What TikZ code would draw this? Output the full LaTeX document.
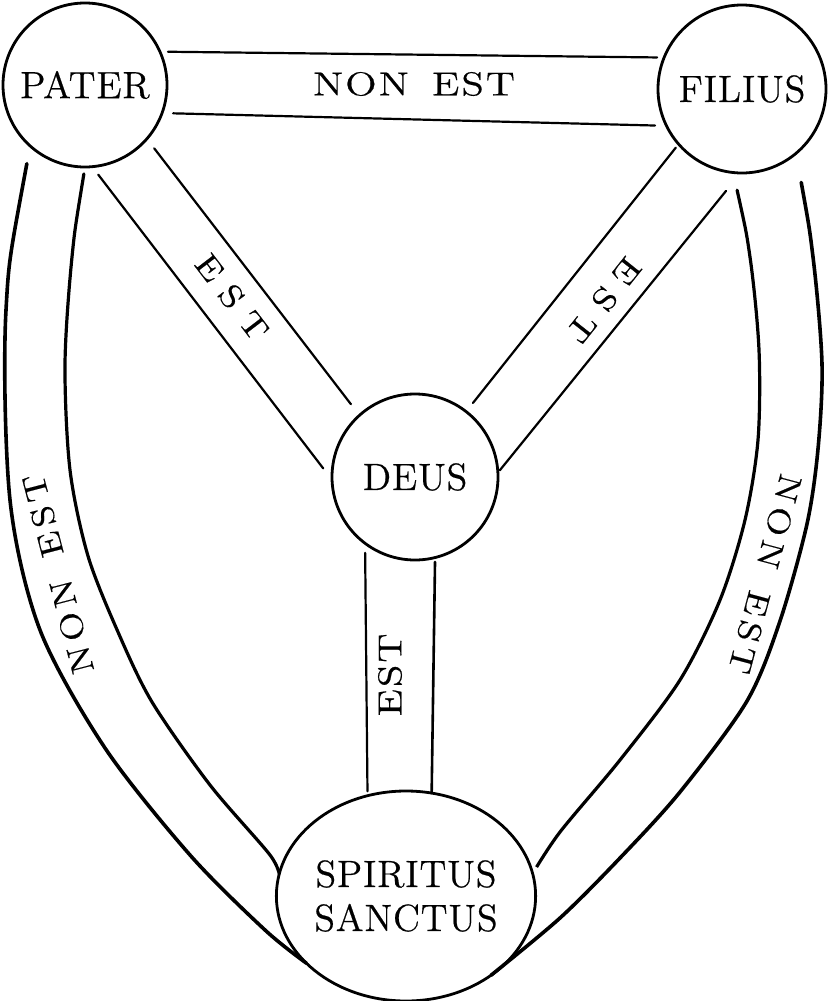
\documentclass[tikz,border=0pt]{standalone}
\usepackage{fontspec}
\usetikzlibrary{shapes.geometric}
\setmainfont{lmroman12-regular.otf}
\newfontfamily\bandfont[FakeStretch=1.25,LetterSpace=6,FakeBold=0.5]{lmroman12-regular.otf}
\newfontfamily\sidefont[FakeStretch=1.2,LetterSpace=17,FakeBold=0.5]{lmroman12-regular.otf}
\newfontfamily\diagfont[FakeStretch=1.2,LetterSpace=40,FakeBold=0.5]{lmroman12-regular.otf}
\newfontfamily\circfont[LetterSpace=2,FakeBold=0.5]{lmroman12-regular.otf}
\begin{document}
\begin{tikzpicture}[x=1pt,y=-1pt,
  circ/.style={draw, circle, line width=2.8pt, inner sep=0pt, outer sep=0pt, align=center,
    font=\circfont\fontsize{38}{44}\selectfont},
  band/.style={line width=2.2pt, line cap=round},
  rim/.style={line width=3.2pt, line cap=round},
  lbl/.style={inner sep=0pt, font=\bandfont\fontsize{33}{38}\selectfont},
  slbl/.style={inner sep=0pt, font=\sidefont\fontsize{32}{38}\selectfont},
  dlbl/.style={inner sep=0pt, font=\diagfont\fontsize{32}{38}\selectfont}]
\useasboundingbox (0,0) rectangle (829,1001);
\fill[white] (0,0) rectangle (829,1001);

% circles
\node[circ, minimum size=164pt] (pater) at (85,85) {PATER};
\node[circ, minimum size=168pt] (filius) at (742,89) {FILIUS};
\node[circ, minimum size=166pt] (deus) at (415,477) {DEUS};
\node[circ, ellipse, minimum width=218pt, minimum height=210pt] (spirit) at (406,896) {SPIRITUS\\SANCTUS};

% top band: PATER - FILIUS
\draw[band, shorten <=8pt, shorten >=7pt] (pater.24.5) -- (filius.158.4);
\draw[band, shorten <=11pt, shorten >=11.5pt] (pater.-20) -- (filius.206.3);

% PATER - DEUS
\draw[band, shorten <=10pt, shorten >=14.5pt] (pater.-85.3) -- (deus.182.4);
\draw[band, shorten <=12pt, shorten >=14pt] (pater.-41.4) -- (deus.132.9);

% FILIUS - DEUS
\draw[band, shorten <=4.5pt, shorten >=11pt] (filius.221.3) -- (deus.52);
\draw[band, shorten <=23pt, shorten >=3pt] (filius.269) -- (deus.3.2);

% DEUS - SPIRITUS
\draw[band, shorten <=9.5pt, shorten >=4.4pt] (deus.233.1) -- (spirit.111.6);
\draw[band, line width=2.6pt, shorten <=4.4pt] (deus.-76) -- (spirit.76.4);

% PATER - SPIRITUS (outer curves)
\draw[rim, line width=3.6pt, shorten <=18pt] plot[smooth] coordinates {(pater.228) (6,310) (10,500) (40,630) (105,748) (190,855) (265,930) (spirit.214)};
\draw[rim, shorten <=7pt, shorten >=4.5pt] plot[smooth] coordinates {(pater.270.8) (72,257) (65,364) (70,470) (88,556) (118,632) (152,702) (210,785) (270,855) (spirit.171.5)};

% FILIUS - SPIRITUS (outer curves)
\draw[rim, shorten <=18pt, shorten >=9.5pt] plot[smooth] coordinates {(filius.264.2) (750,257) (759,350) (758,440) (745,520) (720,600) (680,680) (620,760) (560,832) (spirit.10.3)};
\draw[rim, line width=3.6pt, shorten <=29.5pt] plot[smooth] coordinates {(filius.310.4) (813,257) (822,364) (818,449) (807,524) (780,621) (747,701) (680,792) (620,858) (560,918) (spirit.-43.6)};

% labels
\node[lbl] (t1) at (414,84) {NON\hspace{0.7em}EST};
\node[dlbl, rotate=-52.6] (t2) at (232,297) {EST};
\node[dlbl, rotate=-128.5] (t3) at (604,300) {EST};
\node[lbl, rotate=90] (t4) at (390,675) {EST};
\node[slbl, rotate=104.6] (t5) at (58,574) {NON\hspace{0.75em}EST};
\node[slbl, rotate=-105] (t6) at (765,574) {NON\hspace{0.75em}EST};
\end{tikzpicture}
\end{document}
